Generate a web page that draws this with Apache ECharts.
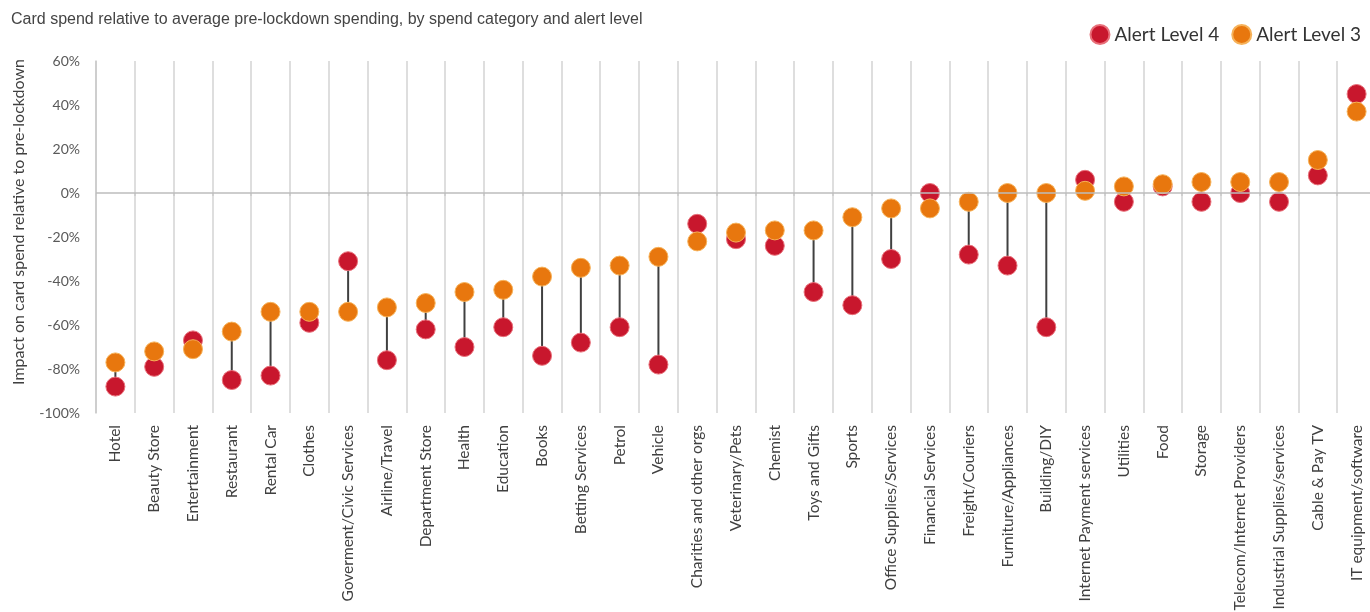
<!DOCTYPE html>
<html>
<head>
<meta charset="utf-8">
<title>Card spend by alert level</title>
<script src="https://cdn.jsdelivr.net/npm/echarts@6/dist/echarts.min.js"></script>
<style>
  html, body { margin: 0; padding: 0; background: #fff; }
  #chart { width: 1370px; height: 612px; }
</style>
</head>
<body>
<div id="chart"></div>
<script>
// categories, left to right
const categories = [
  'Hotel', 'Beauty Store', 'Entertainment', 'Restaurant', 'Rental Car', 'Clothes',
  'Goverment/Civic Services', 'Airline/Travel', 'Department Store', 'Health', 'Education',
  'Books', 'Betting Services', 'Petrol', 'Vehicle', 'Charities and other orgs',
  'Veterinary/Pets', 'Chemist', 'Toys and Gifts', 'Sports', 'Office Supplies/Services',
  'Financial Services', 'Freight/Couriers', 'Furniture/Appliances', 'Building/DIY',
  'Internet Payment services', 'Utilities', 'Food', 'Storage',
  'Telecom/Internet Providers', 'Industrial Supplies/services', 'Cable & Pay TV',
  'IT equipment/software'
]

// % change vs pre-lockdown
const level4 = [-88, -79, -67, -85, -83, -59, -31, -76, -62, -70, -61,
  -74, -68, -61, -78, -14, -21, -24, -45, -51, -30,
  0, -28, -33, -61, 6, -4, 3, -4, 0, -4, 8, 45]
const level3 = [-77, -72, -71, -63, -54, -54, -54, -52, -50, -45, -44,
  -38, -34, -33, -29, -22, -18, -17, -17, -11, -7,
  -7, -4, 0, 0, 1, 3, 4, 5, 5, 5, 15, 37]

// y axis ticks
const yMin = -100
const yMax = 60
const yStep = 20

const chart = echarts.init(document.getElementById('chart'))

chart.setOption({
  animation: false,
  title: {
    text: 'Card spend relative to average pre-lockdown spending, by spend category and alert level',
    left: 6,
    top: 7,
    textStyle: {
      fontFamily: 'Liberation Sans',
      fontSize: 16,
      fontWeight: 'normal',
      color: '#444'
    }
  },
  legend: {
    right: 4,
    top: 19,
    icon: 'circle',
    itemWidth: 19,
    itemHeight: 19,
    itemGap: 12,
    itemTextGap: 3,
    textStyle: { fontFamily: 'Lato', fontSize: 19, color: '#333' },
    data: ['Alert Level 4', 'Alert Level 3']
  },
  // the last column runs a little past the right edge of the picture
  grid: { left: 96, right: -6, top: 61, bottom: 199, outerBoundsMode: 'none' },
  xAxis: {
    type: 'category',
    data: categories,
    boundaryGap: true,
    axisLine: { show: false },
    axisTick: { show: true, length: 3, lineStyle: { color: '#ccc', width: 1.5 } },
    splitLine: { show: true, lineStyle: { color: '#d3d3d3', width: 1.5 } },
    axisLabel: {
      rotate: 90,
      interval: 0,
      margin: 12,
      fontFamily: 'Lato',
      fontSize: 15.5,
      color: '#404040'
    }
  },
  yAxis: {
    type: 'value',
    min: yMin,
    max: yMax,
    interval: yStep,
    name: 'Impact on card spend relative to pre-lockdown',
    nameLocation: 'middle',
    nameGap: 69,
    nameTextStyle: { fontFamily: 'Lato', fontSize: 16, color: '#404040', padding: [0, 0, 0, 30] },
    axisLine: { show: true, lineStyle: { color: '#c8c8c8', width: 1.5 } },
    axisTick: { show: false },
    splitLine: { show: false },
    axisLabel: {
      formatter: '{value}%',
      margin: 16,
      fontFamily: 'Lato',
      fontSize: 14,
      color: '#595959'
    }
  },
  series: [
    {
      // connectors between the two dots
      type: 'custom',
      name: 'gap',
      z: 1,
      silent: true,
      data: categories.map((c, i) => [i, level4[i], level3[i]]),
      renderItem: function (params, api) {
        const a = api.coord([api.value(0), api.value(1)])
        const b = api.coord([api.value(0), api.value(2)])
        return {
          type: 'line',
          shape: { x1: a[0], y1: a[1], x2: b[0], y2: b[1] },
          style: { stroke: '#404040', lineWidth: 2 }
        }
      },
      markLine: {
        silent: true,
        symbol: ['none', 'none'],
        label: { show: false },
        lineStyle: { color: '#bdbdbd', type: 'solid', width: 1.5 },
        data: [{ yAxis: 0 }]
      }
    },
    {
      name: 'Alert Level 4',
      type: 'scatter',
      z: 3,
      symbolSize: 19,
      itemStyle: { color: '#C8172D', borderColor: '#e8707a', borderWidth: 1, opacity: 1 },
      data: level4
    },
    {
      name: 'Alert Level 3',
      type: 'scatter',
      z: 4,
      symbolSize: 19,
      itemStyle: { color: '#E8770E', borderColor: '#f6b25a', borderWidth: 1, opacity: 1 },
      data: level3
    }
  ]
})
</script>
</body>
</html>
